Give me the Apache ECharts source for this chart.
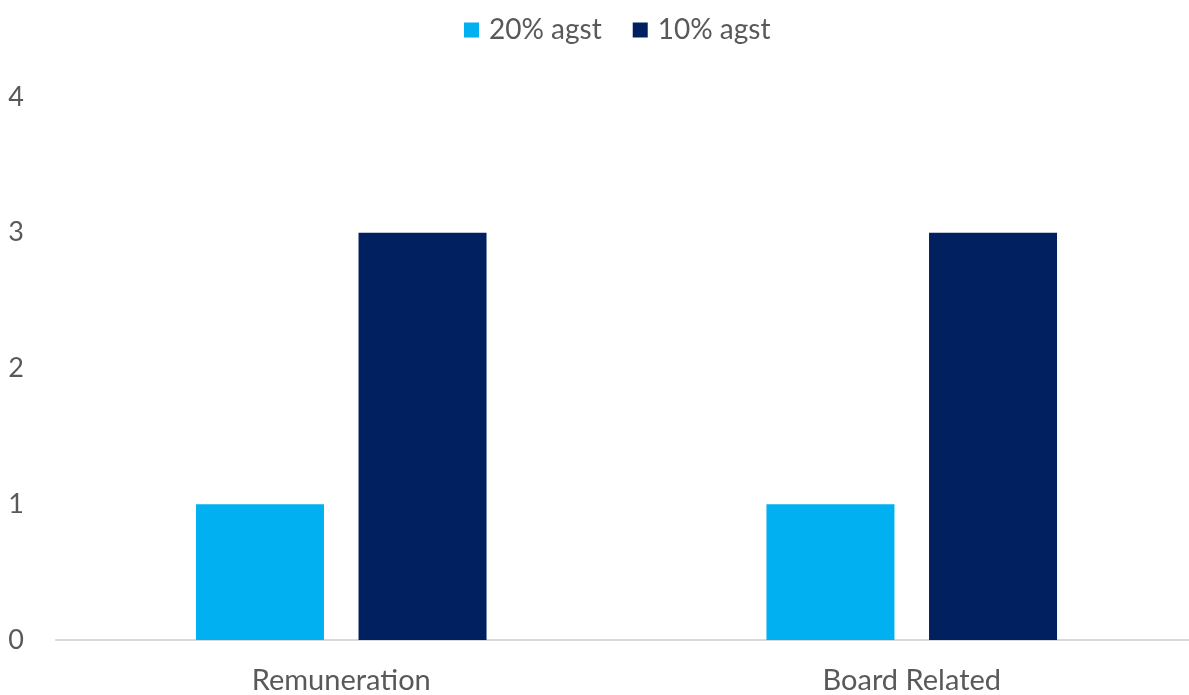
<!DOCTYPE html>
<html>
<head>
<meta charset="utf-8">
<script src="https://cdn.jsdelivr.net/npm/echarts@6/dist/echarts.min.js"></script>
<style>
html, body { margin: 0; padding: 0; background: #fff; overflow: hidden; }
#chart { width: 1197px; height: 695px; }
</style>
</head>
<body>
<div id="chart"></div>
<script>
const categories = ['Remuneration', 'Board Related']
const seriesNames = ['20% agst', '10% agst']
const agst20 = [1, 1]
const agst10 = [3, 3]
const yTicks = { min: 0, max: 4, interval: 1 }

const chart = echarts.init(document.getElementById('chart'))
const font = 'Lato, "Open Sans", sans-serif'
const option = {
    backgroundColor: '#fff',
    textStyle: { fontFamily: font },
    legend: {
        top: 11,
        left: 459,
        itemWidth: 15,
        itemHeight: 15,
        itemGap: 31,
        icon: 'rect',
        textStyle: { fontSize: 28, color: '#595959', fontFamily: font, padding: [0, 0, 0, 5] },
        data: seriesNames
    },
    grid: { left: 56, right: 0, top: 97, bottom: 52 },
    xAxis: {
        type: 'category',
        data: categories,
        axisLine: { lineStyle: { color: '#d9d9d9', width: 2 } },
        axisTick: { show: false },
        axisLabel: { fontSize: 29, color: '#595959', margin: 26, fontFamily: font }
    },
    yAxis: {
        type: 'value',
        min: yTicks.min,
        max: yTicks.max,
        interval: yTicks.interval,
        splitLine: { show: false },
        axisLine: { show: false },
        axisTick: { show: false },
        axisLabel: { fontSize: 27, color: '#595959', margin: 32, fontFamily: font }
    },
    series: [
        {
            name: seriesNames[0],
            type: 'bar',
            data: agst20,
            barWidth: 128,
            barGap: '27%',
            itemStyle: { color: '#00B0F0' }
        },
        {
            name: seriesNames[1],
            type: 'bar',
            data: agst10,
            barWidth: 128,
            barGap: '27%',
            itemStyle: { color: '#002060' }
        }
    ]
}
chart.setOption(option)
</script>
</body>
</html>
